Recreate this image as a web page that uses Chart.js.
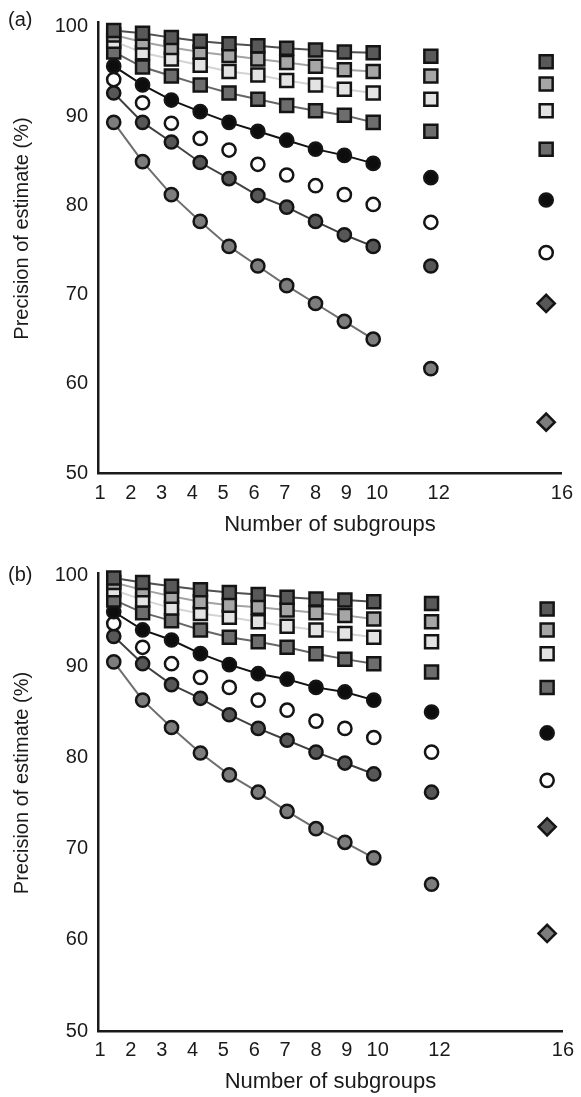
<!DOCTYPE html>
<html>
<head>
<meta charset="utf-8">
<script src="https://cdn.jsdelivr.net/npm/chart.js@4.4.1/dist/chart.umd.min.js"></script>
<style>
  html, body { margin: 0; padding: 0; background: #fff; }
  body { width: 581px; height: 1097px; position: relative; overflow: hidden; }
  .panel { position: absolute; left: 0; width: 581px; }
  #panelA { top: 0; height: 548px; }
  #panelB { top: 548px; height: 549px; }
</style>
</head>
<body>
<div class="panel" id="panelA"><canvas id="chartA"></canvas></div>
<div class="panel" id="panelB"><canvas id="chartB"></canvas></div>
<script>
// Precision of estimate vs number of subgroups, panels (a) and (b)

const subgroups = [1, 2, 3, 4, 5, 6, 7, 8, 9, 10, 12, 16];
const xTickValues = [1, 2, 3, 4, 5, 6, 7, 8, 9, 10, 12, 16];
const yTickValues = [50, 60, 70, 80, 90, 100];

// Panel (a)
const aSquareDark  = [99.6, 99.3, 98.8, 98.4, 98.1, 97.9, 97.6, 97.4, 97.2, 97.1, 96.7, 96.1];
const aSquareMid   = [99.1, 98.3, 97.7, 97.2, 96.8, 96.4, 96.0, 95.6, 95.2, 95.0, 94.5, 93.6];
const aSquareLight = [98.4, 97.1, 96.4, 95.7, 95.0, 94.6, 94.0, 93.5, 93.0, 92.6, 91.9, 90.6];
const aSquareGrey  = [97.2, 95.5, 94.5, 93.5, 92.6, 91.9, 91.2, 90.6, 90.1, 89.3, 88.3, 86.3];
const aCircleBlack = [95.6, 93.5, 91.8, 90.5, 89.3, 88.3, 87.3, 86.3, 85.6, 84.7, 83.1, 80.6];
const aCircleWhite = [94.1, 91.5, 89.2, 87.5, 86.2, 84.6, 83.4, 82.2, 81.2, 80.1, 78.1, 74.7];
const aCircleDark  = [92.6, 89.3, 87.1, 84.8, 83.0, 81.1, 79.8, 78.2, 76.7, 75.4, 73.2, 69.0];
const aCircleGrey  = [89.3, 84.9, 81.2, 78.2, 75.4, 73.2, 71.0, 69.0, 67.0, 65.0, 61.7, 55.7];

// Panel (b)
const bSquareDark  = [99.7, 99.2, 98.8, 98.4, 98.1, 97.9, 97.6, 97.4, 97.3, 97.1, 96.9, 96.3];
const bSquareMid   = [99.2, 98.4, 97.7, 97.1, 96.7, 96.5, 96.2, 95.9, 95.6, 95.2, 94.9, 94.0];
const bSquareLight = [98.4, 97.3, 96.4, 95.8, 95.4, 94.9, 94.4, 94.0, 93.6, 93.2, 92.7, 91.4];
const bSquareGrey  = [97.3, 95.9, 95.0, 94.0, 93.2, 92.7, 92.1, 91.4, 90.8, 90.3, 89.4, 87.7];
const bCircleBlack = [96.0, 94.0, 92.9, 91.4, 90.2, 89.2, 88.6, 87.7, 87.2, 86.3, 85.0, 82.7];
const bCircleWhite = [94.7, 92.1, 90.3, 88.8, 87.7, 86.3, 85.2, 84.0, 83.2, 82.2, 80.6, 77.5];
const bCircleDark  = [93.3, 90.3, 88.0, 86.5, 84.7, 83.2, 81.9, 80.6, 79.4, 78.2, 76.2, 72.4];
const bCircleGrey  = [90.5, 86.3, 83.3, 80.5, 78.1, 76.2, 74.1, 72.2, 70.7, 69.0, 66.1, 60.7];

// Marker / line look per series (same order as the arrays above)
const seriesStyles = [
    { shape: 'rect',   fill: '#595959', line: '#505050' },
    { shape: 'rect',   fill: '#a6a6a6', line: '#a3a3a3' },
    { shape: 'rect',   fill: '#e3e3e3', line: '#d4d4d4' },
    { shape: 'rect',   fill: '#6d6d6d', line: '#666666' },
    { shape: 'circle', fill: '#0d0d0d', line: '#111111' },
    { shape: 'circle', fill: '#ffffff', line: null },
    { shape: 'circle', fill: '#575757', line: '#404040' },
    { shape: 'circle', fill: '#7d7d7d', line: '#6e6e6e' }
];

const textColor = '#1a1a1a';
const axisColor = '#1a1a1a';
Chart.defaults.font.family = '"Liberation Sans", Arial, sans-serif';
Chart.defaults.color = textColor;

function buildDatasets(seriesList) {
    return seriesList.map((values, i) => {
        const st = seriesStyles[i];
        // the two lower circle series are drawn as diamonds at 16
        const isDiamond = ctx => i >= 6 && ctx.raw && ctx.raw.x === 16;
        return {
            data: subgroups.map((x, j) => ({ x: x, y: values[j] })),
            xAxisID: 'x',
            yAxisID: 'y',
            showLine: st.line !== null,
            borderColor: st.line || axisColor,
            borderWidth: 2,
            segment: {
                // only the 1..10 run is joined
                borderColor: ctx => ctx.p1.parsed.x > 10 ? 'rgba(0,0,0,0)' : st.line
            },
            tension: 0,
            fill: false,
            clip: false,
            pointStyle: ctx => isDiamond(ctx) ? 'rectRot' : st.shape,
            pointRadius: ctx => st.shape === 'rect' ? 9.2 : (isDiamond(ctx) ? 8.6 : 6.6),
            pointBackgroundColor: st.fill,
            pointBorderColor: '#141414',
            pointBorderWidth: 2.5
        };
    });
}

// panel letter + rotated y title
const panelTextPlugin = {
    id: 'panelText',
    afterDraw(chart, args, opts) {
        const ctx = chart.ctx;
        const area = chart.chartArea;
        ctx.save();
        ctx.fillStyle = textColor;
        ctx.textBaseline = 'middle';
        ctx.font = '20px "Liberation Sans", Arial, sans-serif';
        ctx.textAlign = 'left';
        ctx.fillText(opts.letter, 8, opts.letterY);

        ctx.translate(22, (area.top + area.bottom) / 2 - 19);
        ctx.rotate(-Math.PI / 2);
        ctx.textAlign = 'center';
        ctx.fillText('Precision of estimate (%)', 0, 0);
        ctx.restore();
    }
};

function makePanel(canvasId, seriesList, cfg) {
    const ctx = document.getElementById(canvasId);
    return new Chart(ctx, {
        type: 'line',
        data: { datasets: buildDatasets(seriesList) },
        plugins: [panelTextPlugin],
        options: {
            responsive: true,
            maintainAspectRatio: false,
            animation: false,
            events: [],
            layout: { padding: { left: 7, right: 11, top: cfg.padTop, bottom: 0 } },
            plugins: {
                legend: { display: false },
                tooltip: { enabled: false },
                panelText: { letter: cfg.letter, letterY: cfg.letterY }
            },
            scales: {
                // data axis: where the markers sit
                x: {
                    type: 'linear',
                    display: false,
                    min: 0.455,
                    max: 16.545
                },
                // labelled axis as printed under the plot
                xTicks: {
                    type: 'linear',
                    position: 'bottom',
                    min: 0.936,
                    max: 16,
                    afterBuildTicks: scale => {
                        scale.ticks = xTickValues.map(v => ({ value: v }));
                    },
                    afterFit: scale => { scale.height = cfg.axisH; },
                    grid: { display: false, drawTicks: false },
                    border: { display: true, width: 2.5, color: axisColor },
                    ticks: {
                        autoSkip: false,
                        maxRotation: 0,
                        padding: cfg.xTickPad,
                        color: textColor,
                        font: { size: 20 }
                    },
                    title: {
                        display: true,
                        text: 'Number of subgroups',
                        color: textColor,
                        font: { size: 22 },
                        padding: { top: 0, bottom: cfg.titlePad }
                    }
                },
                y: {
                    type: 'linear',
                    min: 50,
                    max: cfg.yMax,
                    afterBuildTicks: scale => {
                        scale.ticks = yTickValues.map(v => ({ value: v }));
                    },
                    afterFit: scale => { scale.width = 91; },
                    grid: { display: false, drawTicks: false },
                    border: { display: true, width: 2.5, color: axisColor },
                    ticks: {
                        padding: 10,
                        color: textColor,
                        font: { size: 20 }
                    }
                }
            }
        }
    });
}

makePanel('chartA',
    [aSquareDark, aSquareMid, aSquareLight, aSquareGrey, aCircleBlack, aCircleWhite, aCircleDark, aCircleGrey],
    { letter: '(a)', letterY: 20, padTop: 15, yMax: 100.55, axisH: 75, xTickPad: 8, titlePad: 10 });

makePanel('chartB',
    [bSquareDark, bSquareMid, bSquareLight, bSquareGrey, bCircleBlack, bCircleWhite, bCircleDark, bCircleGrey],
    { letter: '(b)', letterY: 27, padTop: 25, yMax: 100.25, axisH: 66, xTickPad: 7, titlePad: 2 });
</script>
</body>
</html>
